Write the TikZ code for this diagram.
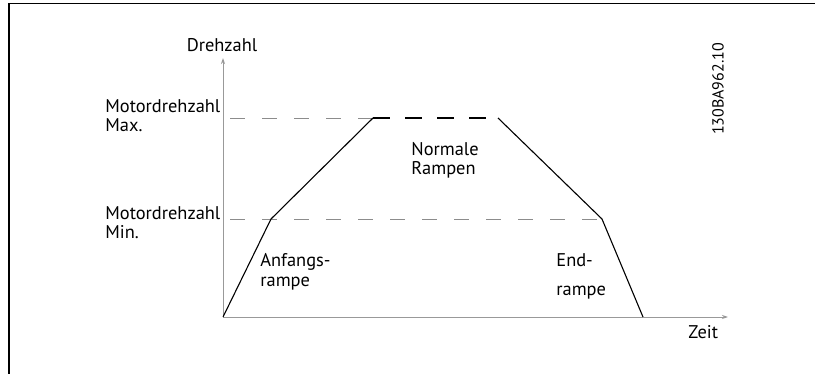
\documentclass[tikz,border=0pt]{standalone}
\usepackage{fontspec}
\setmainfont{PT Sans}
\usetikzlibrary{arrows.meta, positioning}

\begin{document}
\begin{tikzpicture}[
				x=0.5pt, y=-0.5pt,
				lbl/.style = {font=\fontsize{9.2}{9.5}\selectfont, inner sep=0pt, align=left},
				axis/.style = {-{Stealth[length=3pt, width=2pt]}, draw=gray!80, line width=0.45pt},
				level/.style = {draw=gray!90, line width=0.45pt, dash pattern=on 7.5pt off 8.5pt},
				ramp/.style = {draw=black, line width=0.55pt}
				]
				\useasboundingbox (0,0) rectangle (815,374);
				\draw[line width=0.6pt] (9,374) -- (9,3.5) -- (815,3.5);
				
				% corner points of the speed profile
				\coordinate (o) at (223,317);
				\coordinate (xend) at (728,317);
				\coordinate (yend) at (223,58);
				\coordinate (a) at (271,219);
				\coordinate (b) at (373,118);
				\coordinate (c) at (498,118);
				\coordinate (d) at (602,219);
				\coordinate (e) at (643,317);
				\coordinate (maxs) at (230,118);
				\coordinate (mins) at (230,219);
				
				\draw[level] (maxs) -- (b);
				\draw[level] (mins) -- (d);
				\draw[axis] (o) -- (xend);
				\draw[axis] (o) -- (yend);
				\draw[ramp] (o) -- (a) -- (b);
				\draw[ramp, line width=1pt, dash pattern=on 8.5pt off 7.5pt] (b) -- (c);
				\draw[ramp] (c) -- (d) -- (e);
				
				% labels (base anchor = baseline of the last line)
				\node[lbl, anchor=base] (drehzahl) at (222,52) {Drehzahl};
				\node[lbl, anchor=base west] (nmax) at (105,132) {Motordrehzahl\\Max.};
				\node[lbl, anchor=base west] (nmin) at (105,239) {Motordrehzahl\\Min.};
				\node[lbl, anchor=base west] (normal) at (411,175) {Normale\\Rampen};
				\node[lbl, anchor=base west] (anfang) at (260,286) {Anfangs-\\rampe};
				\node[lbl, anchor=base west] (ende) at (556,295) {End-\\[4.5pt]rampe};
				\node[lbl, anchor=base west] (zeit) at (688,338) {Zeit};
				\node[lbl, font=\fontsize{8}{9.5}\selectfont, rotate=90] (code) at (718,89) {130BA962.10};
			\end{tikzpicture}
\end{document}
